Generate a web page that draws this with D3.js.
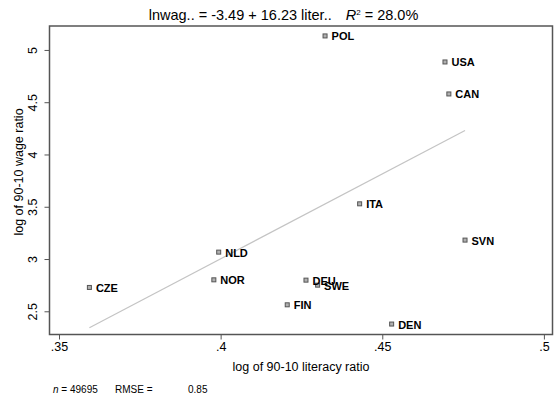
<!DOCTYPE html>
<html>
<head>
<meta charset="utf-8">
<script src="https://cdn.jsdelivr.net/npm/d3@7/dist/d3.min.js"></script>
<style>
  html, body { margin: 0; padding: 0; background: #fff; }
  svg { display: block; font-family: "Liberation Sans", Arial, Helvetica, sans-serif; }
</style>
</head>
<body>
<svg id="chart" width="556" height="398"></svg>
<script>
// Countries: log 90-10 literacy ratio vs log 90-10 wage ratio
const countries = ["POL", "USA", "CAN", "ITA", "SVN", "NLD", "NOR", "CZE", "DEU", "SWE", "FIN", "DEN"];
const literacy  = [0.4323, 0.4694, 0.4706, 0.4430, 0.4756, 0.3994, 0.3979, 0.3594, 0.4264, 0.4300, 0.4206, 0.4529];
const wage      = [5.134, 4.885, 4.579, 3.528, 3.181, 3.066, 2.801, 2.728, 2.798, 2.750, 2.562, 2.378];

// Regression results
const intercept = -3.49;
const slope = 16.23;
const r2Pct = 28.0;
const nObs = 49695;
const rmse = 0.85;

const xTicks = [0.35, 0.40, 0.45, 0.50];
const xTickLabels = [".35", ".4", ".45", ".5"];
const yTicks = [2.5, 3, 3.5, 4, 4.5, 5];
const yTickLabels = ["2.5", "3", "3.5", "4", "4.5", "5"];

const svg = d3.select("#chart");
const box = { left: 49.5, right: 552.5, top: 26, bottom: 334.5 };

const x = d3.scaleLinear().domain([0.34706, 0.50266]).range([box.left, box.right]);
const y = d3.scaleLinear().domain([2.278, 5.229]).range([box.bottom, box.top]);

// Fitted line over the observed literacy range
const xMin = d3.min(literacy), xMax = d3.max(literacy);
svg.append("line")
  .attr("x1", x(xMin)).attr("y1", y(intercept + slope * xMin))
  .attr("x2", x(xMax)).attr("y2", y(intercept + slope * xMax))
  .attr("stroke", "#c4c4c4").attr("stroke-width", 1.2);

// Points and labels
const pts = countries.map((c, i) => ({ c, lx: literacy[i], w: wage[i] }));
const g = svg.append("g");
g.selectAll("rect.pt").data(pts).enter().append("rect")
  .attr("class", "pt")
  .attr("x", d => x(d.lx) - 2).attr("y", d => y(d.w) - 2)
  .attr("width", 4).attr("height", 4)
  .attr("fill", "#b0b0b0").attr("stroke", "#555").attr("stroke-width", 1);
g.selectAll("text.lab").data(pts).enter().append("text")
  .attr("class", "lab")
  .attr("x", d => x(d.lx) + 6.5).attr("y", d => y(d.w) + 4.5)
  .attr("font-size", 11).attr("font-weight", "bold").attr("fill", "#000")
  .text(d => d.c);

// Axes
const xAxis = d3.axisBottom(x).tickValues(xTicks).tickSize(5).tickSizeOuter(0)
  .tickFormat((d, i) => xTickLabels[i]);
const gx = svg.append("g").attr("transform", `translate(0,${box.bottom})`).call(xAxis);
gx.select(".domain").remove();
gx.selectAll(".tick line").attr("stroke", "#555").attr("stroke-width", 1);
gx.selectAll(".tick text").attr("font-size", 12.5).attr("fill", "#000")
  .attr("font-family", "Liberation Sans, Arial, sans-serif").attr("y", 8).attr("dy", "0.71em");

const yAxis = d3.axisLeft(y).tickValues(yTicks).tickSize(5).tickSizeOuter(0)
  .tickFormat((d, i) => yTickLabels[i]);
const gy = svg.append("g").attr("transform", `translate(${box.left},0)`).call(yAxis);
gy.select(".domain").remove();
gy.selectAll(".tick line").attr("stroke", "#555").attr("stroke-width", 1);
gy.selectAll(".tick text").attr("font-size", 12.5).attr("fill", "#000")
  .attr("font-family", "Liberation Sans, Arial, sans-serif")
  .attr("transform", "rotate(-90)").attr("x", 0).attr("y", -12.5).attr("dy", 0)
  .attr("text-anchor", "middle");

// Plot frame
svg.append("rect")
  .attr("x", box.left).attr("y", box.top)
  .attr("width", box.right - box.left).attr("height", box.bottom - box.top)
  .attr("fill", "none").attr("stroke", "#555").attr("stroke-width", 1.5);

// Axis titles
svg.append("text").attr("x", (box.left + box.right) / 2).attr("y", 371)
  .attr("text-anchor", "middle").attr("font-size", 12.5).text("log of 90-10 literacy ratio");
svg.append("text").attr("transform", "translate(23,172) rotate(-90)")
  .attr("text-anchor", "middle").attr("font-size", 12.5).text("log of 90-10 wage ratio");

// Title with fit equation
const title = svg.append("text").attr("x", 283.5).attr("y", 20)
  .attr("text-anchor", "middle").attr("font-size", 14.5);
title.append("tspan").text(`lnwag.. = ${intercept.toFixed(2)} + ${slope.toFixed(2)} liter..`);
title.append("tspan").attr("dx", 14).attr("font-style", "italic").text("R");
title.append("tspan").attr("font-size", 8).attr("dy", -5).text("2");
title.append("tspan").attr("dy", 5).text(` = ${r2Pct.toFixed(1)}%`);

// Footnote
const foot = svg.append("g").attr("font-size", 10);
const ft = foot.append("text").attr("x", 53).attr("y", 393);
ft.append("tspan").attr("font-style", "italic").text("n");
ft.append("tspan").text(` = ${nObs}`);
foot.append("text").attr("x", 115).attr("y", 393).text("RMSE =");
foot.append("text").attr("x", 188).attr("y", 393).text(rmse.toFixed(2));
</script>
</body>
</html>
